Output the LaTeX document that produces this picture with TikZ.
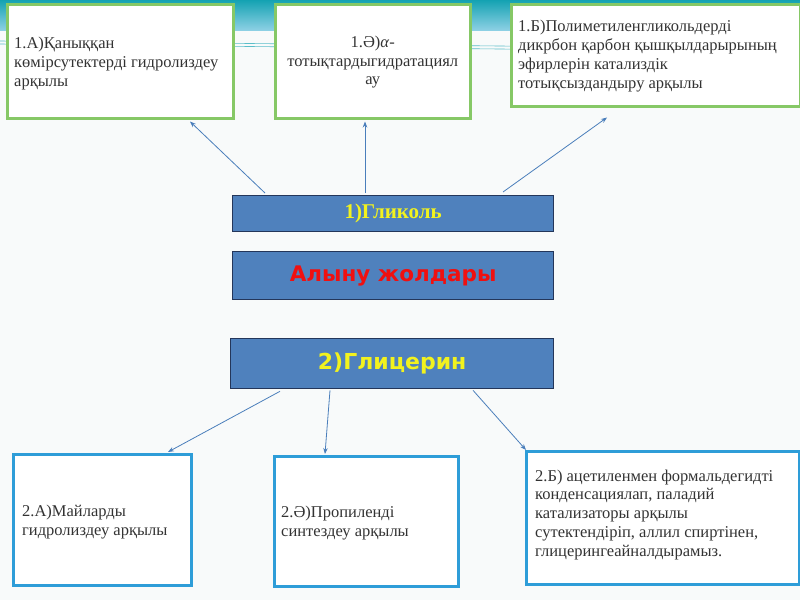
\documentclass[tikz,border=0pt]{standalone}
\usepackage{fontspec}
\setmainfont{Liberation Serif}
\newfontfamily\barsans{DejaVu Sans}
\usetikzlibrary{arrows.meta,calc}
\definecolor{boxgreen}{HTML}{86C866}
\definecolor{boxblue}{HTML}{2E9DD8}
\definecolor{barblue}{HTML}{4F81BD}
\definecolor{bardark}{HTML}{24365A}
\definecolor{linkblue}{HTML}{4A7EBB}
\definecolor{txt}{HTML}{333333}
\definecolor{barytxt}{HTML}{F2F21E}
\definecolor{bartred}{HTML}{F01010}
\definecolor{bgpale}{HTML}{F8FAFA}
\definecolor{tealdark}{HTML}{14A2B2}
\definecolor{teallight}{HTML}{8CD0E4}
\begin{document}
\begin{tikzpicture}[x=1pt,y=-1pt,
  gbox/.style={draw=boxgreen,line width=2.5pt,fill=white,anchor=north west,inner sep=0pt},
  bbox/.style={draw=boxblue,line width=2.5pt,fill=white,anchor=north west,inner sep=0pt},
  btext/.style={font=\fontsize{16.5}{18.8}\selectfont,text=txt,inner sep=0pt,align=left,anchor=west},
  bar/.style={draw=bardark,line width=1.3pt,fill=barblue,anchor=north west,inner sep=0pt},
  link/.style={draw=linkblue,line width=0.8pt,-{Stealth[length=6pt,width=4.5pt]}}]
\useasboundingbox (0,0) rectangle (800,600);
% background
\fill[bgpale] (0,0) rectangle (800,600);
\shade[top color=tealdark,bottom color=teallight] (0,0) rectangle (800,30);
\draw[tealdark!70,line width=0.6pt] (0,41) -- (800,49);
\draw[tealdark!70,line width=0.6pt] (0,44) -- (800,52);
% top boxes
\node[gbox,minimum width=226pt,minimum height=114pt] (b1a) at (6,3) {};
\node[btext] (b1at) at ([xshift=8pt,yshift=-2pt]b1a.west) {1.А)Қаныққан\\көмірсутектерді гидролиздеу\\арқылы};
\node[gbox,minimum width=195pt,minimum height=114pt] (b1e) at (274,3) {};
\node[btext,align=center,anchor=center] (b1et) at ([yshift=-1pt]b1e.center) {1.Ә)\textit{α}-\\тотықтардыгидратациял\\ау};
\node[gbox,minimum width=289pt,minimum height=102pt] (b1b) at (510,3) {};
\node[btext] (b1bt) at ([xshift=8pt,yshift=-1pt]b1b.west) {1.Б)Полиметиленгликольдерді\\дикрбон қарбон қышқылдарырының\\эфирлерін катализдік\\тотықсыздандыру арқылы};
% bars
\node[bar,minimum width=321pt,minimum height=36pt] (gl) at (232,195) {};
\node[font=\fontsize{21}{24}\selectfont\bfseries,text=barytxt] (glt) at (gl.center) {1)Гликоль};
\node[bar,minimum width=321pt,minimum height=48pt] (al) at (232,251) {};
\node[font=\barsans\fontsize{21.5}{24}\selectfont\bfseries,text=bartred] (alt) at (al.center) {Алыну жолдары};
\node[bar,minimum width=323pt,minimum height=50pt] (gc) at (230,338) {};
\node[font=\barsans\fontsize{22}{24}\selectfont\bfseries,text=barytxt] (gct) at (gc.center) {2)Глицерин};
% bottom boxes
\node[bbox,minimum width=178pt,minimum height=131pt] (b2a) at (12,453) {};
\node[btext] (b2at) at ([xshift=10pt,yshift=-2pt]b2a.west) {2.А)Майларды\\гидролиздеу арқылы};
\node[bbox,minimum width=184pt,minimum height=130pt] (b2e) at (273,455) {};
\node[btext] (b2et) at ([xshift=8pt,yshift=-2pt]b2e.west) {2.Ә)Пропиленді\\синтездеу арқылы};
\node[bbox,minimum width=273pt,minimum height=133pt] (b2b) at (525,450) {};
\node[btext] (b2bt) at ([xshift=10pt,yshift=3pt]b2b.west) {2.Б) ацетиленмен формальдегидті\\конденсациялап, паладий\\катализаторы арқылы\\сутектендіріп, аллил спиртінен,\\глицерингеайналдырамыз.};
% connectors
\draw[link] ([xshift=33pt,yshift=2pt]gl.north west) -- ([xshift=184pt,yshift=-2pt]b1a.south west);
\draw[link] ([xshift=133pt,yshift=2pt]gl.north west) -- ([xshift=91pt,yshift=-2pt]b1e.south west);
\draw[link] ([xshift=271pt,yshift=3pt]gl.north west) -- ([xshift=97pt,yshift=-10pt]b1b.south west);
\draw[link] ([xshift=50pt,yshift=-2pt]gc.south west) -- ([xshift=156pt,yshift=1pt]b2a.north west);
\draw[link] ([xshift=100pt,yshift=-1pt]gc.south west) -- ([xshift=52pt,yshift=1pt]b2e.north west);
\draw[link] ([xshift=243pt,yshift=-1pt]gc.south west) -- ([xshift=1pt,yshift=0pt]b2b.north west);
\end{tikzpicture}
\end{document}
